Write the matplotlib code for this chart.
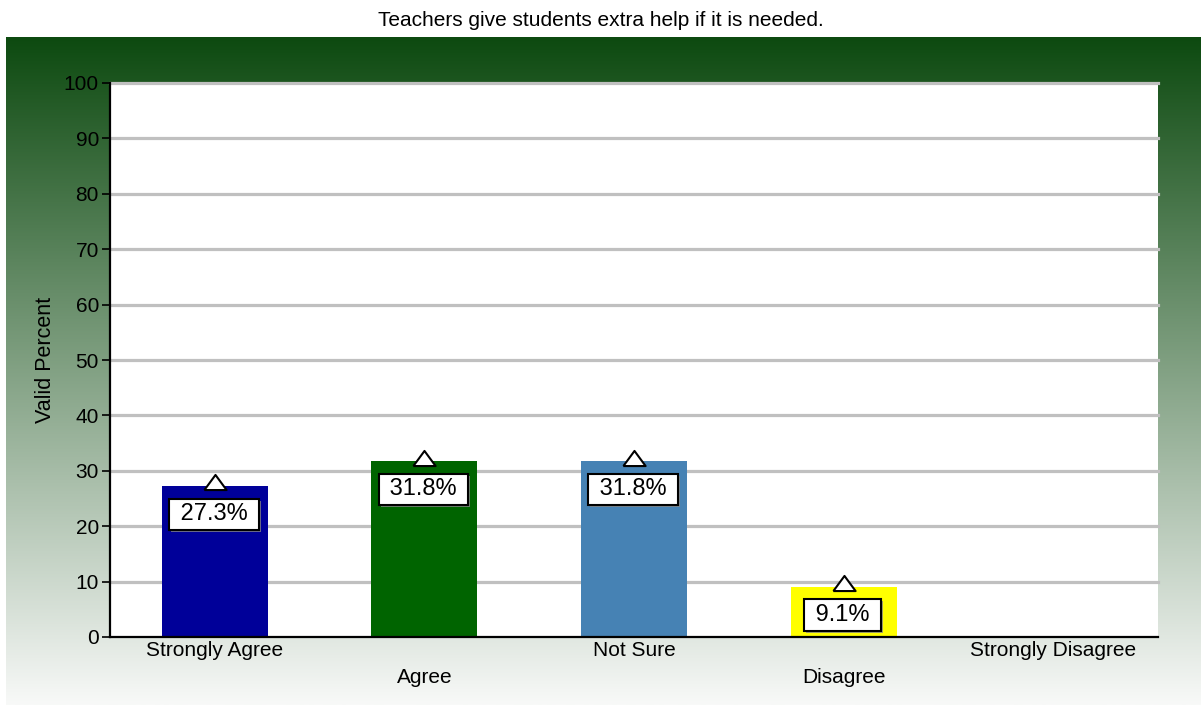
import numpy as np
import matplotlib.pyplot as plt
import matplotlib.patheffects as pe

plt.rcParams['font.family'] = ['Liberation Sans', 'DejaVu Sans']

# Data
categories = ["Strongly Agree", "Agree", "Not Sure", "Disagree", "Strongly Disagree"]
values = [27.3, 31.8, 31.8, 9.1, 0.0]
bar_colors = ["#000099", "#006400", "#4682B4", "#FFFF00", "#999999"]
title = "Teachers give students extra help if it is needed."

fig = plt.figure(figsize=(12.01, 7.05), dpi=100)

# Green gradient background panel
bg = fig.add_axes([6 / 1201, 0, 1 - 6 / 1201, 1 - 37 / 705])
top = np.array([13, 74, 16]) / 255
bottom = np.array([248, 249, 248]) / 255
t = np.linspace(0, 1, 256)[:, None]
grad = top * (1 - t) + bottom * t
bg.imshow(grad[:, None, :], aspect="auto", extent=[0, 1, 0, 1])
bg.axis("off")

fig.text(0.5, 1 - 20 / 705, title, ha="center", va="center", fontsize=15)

ax = fig.add_axes([110 / 1201, 1 - 637 / 705, (1158 - 110) / 1201, (637 - 83) / 705])
ax.set_facecolor("white")
x = np.arange(len(categories))
ax.set_xlim(-0.5, len(categories) - 0.5)
ax.set_ylim(0, 100)

# gridlines
for yv in range(10, 101, 10):
    ax.axhline(yv, color="#c0c0c0", lw=2.3, zorder=1, clip_on=False)

ax.bar(x, values, width=0.505, color=bar_colors, zorder=2)

tri = [(-1, -0.68), (1, -0.68), (0, 0.68), (-1, -0.68)]
for xi, v in zip(x, values):
    if v <= 0:
        continue
    ax.plot(xi, v + 0.6, marker=tri, markersize=16,
            markerfacecolor="white", markeredgecolor="black", markeredgewidth=1.5,
            zorder=4, clip_on=False, linestyle="none")
    txt = ax.annotate(f" {v:.1f}% ", (xi, v), xytext=(-1, -28.5), textcoords="offset pixels",
                      ha="center", va="center", fontsize=17, zorder=5,
                      bbox=dict(boxstyle="square,pad=0.2", facecolor="white",
                                edgecolor="black", linewidth=1.5))
    txt.get_bbox_patch().set_path_effects([
        pe.SimplePatchShadow(offset=(1.5, -1.5), shadow_rgbFace="#888888", alpha=0.8),
        pe.Normal()])

for s in ["top", "right"]:
    ax.spines[s].set_visible(False)
ax.spines["left"].set_linewidth(1.6)
ax.spines["bottom"].set_linewidth(1.6)
ax.spines["left"].set_zorder(3)
ax.spines["bottom"].set_zorder(3)

ax.set_yticks(range(0, 101, 10))
ax.tick_params(axis="y", length=6, width=1.2, labelsize=15, pad=2)
ax.set_xticks(x)
ax.set_xticklabels(categories, fontsize=15)
ax.tick_params(axis="x", length=0)
for i, tk in enumerate(ax.xaxis.get_major_ticks()):
    tk.set_pad(3 if i % 2 == 0 else 22)

ax.set_ylabel("Valid Percent", fontsize=15.5)
ax.yaxis.set_label_coords(-0.052, 0.5)

fig.savefig("out.png", dpi=100)
